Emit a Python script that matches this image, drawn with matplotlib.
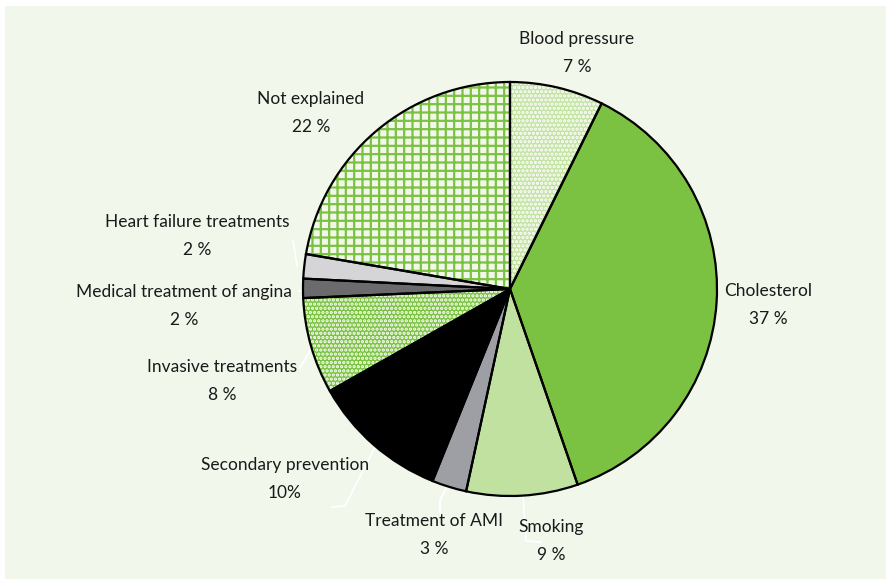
import numpy as np
import matplotlib.pyplot as plt
from matplotlib.patches import Rectangle

plt.rcParams['font.family'] = ['Lato', 'DejaVu Sans']
plt.rcParams['hatch.linewidth'] = 1.6

# data (clockwise from 12 o'clock), slice sizes
labels = ["Blood pressure", "Cholesterol", "Smoking", "Treatment of AMI",
          "Secondary prevention", "Invasive treatments",
          "Medical treatment of angina", "Heart failure treatments", "Not explained"]
values = [7.3, 37.4, 8.7, 2.7, 10.7, 7.5, 1.5, 1.9, 22.3]
pct_text = ["7 %", "37 %", "9 %", "3 %", "10%", "8 %", "2 %", "2 %", "22 %"]

colors = ['#c4e2a4', '#7cc242', '#c1e1a1', '#9e9fa4', '#000000',
          '#7cc242', '#6b6b6e', '#d5d5d8', '#f1f7eb']
hatches = ['....', None, None, None, None, '....', None, None, '++']
hatch_col = ['white', None, None, None, None, 'white', None, None, '#7cc242']

# label positions in pixels (x, y of first line)
lab_pos = [(577, 39), (768, 291), (551, 527), (434, 521), (285, 465),
           (222, 367), (184, 292), (197, 222), (311, 99)]
# leader lines (white)
leaders = [None, None,
           [(523, 496), (526, 541), (541, 542)],
           [(447, 487), (440, 500), (440, 515)],
           [(375, 447), (345, 506), (332, 507)],
           [(311, 349), (300, 368)],
           [(299, 291), (305, 291)],
           [(297, 266), (293, 240)],
           None]

W, H = 887, 579
fig = plt.figure(figsize=(W / 100, H / 100), dpi=100)
fig.patch.set_facecolor('white')
ax = fig.add_axes([0, 0, 1, 1])
ax.add_patch(Rectangle((5, 0), W - 5, H - 6, facecolor='#f1f7eb', edgecolor='none', zorder=0))

cx, cy, r = 510, H - 289, 207

wedges, _ = ax.pie(values, colors=colors, startangle=90, counterclock=False,
                   center=(cx, cy), radius=r, wedgeprops=dict(linewidth=0))
for w, h, hc in zip(wedges, hatches, hatch_col):
    w.set_zorder(2)
    if h:
        w.set_hatch(h)
        w.set_edgecolor(hc)
        w.set_linewidth(0)

edges, _ = ax.pie(values, startangle=90, counterclock=False, center=(cx, cy), radius=r,
                  wedgeprops=dict(fill=False, edgecolor='black', linewidth=1.6))
for e in edges:
    e.set_zorder(3)

for seg in leaders:
    if seg is None:
        continue
    xs = [p[0] for p in seg]
    ys = [H - p[1] for p in seg]
    ax.plot(xs, ys, color='white', lw=1.3, zorder=1)

for lab, pct, (x, y) in zip(labels, pct_text, lab_pos):
    ax.text(x, H - y, lab, ha='center', va='center', fontsize=12.5, color='#1a1a1a', zorder=4)
    ax.text(x, H - y - 28, pct, ha='center', va='center', fontsize=12.5, color='#1a1a1a', zorder=4)

ax.set_xlim(0, W)
ax.set_ylim(0, H)
ax.set_aspect('auto')
ax.axis('off')

plt.savefig('out.png', dpi=100, facecolor=fig.get_facecolor())
